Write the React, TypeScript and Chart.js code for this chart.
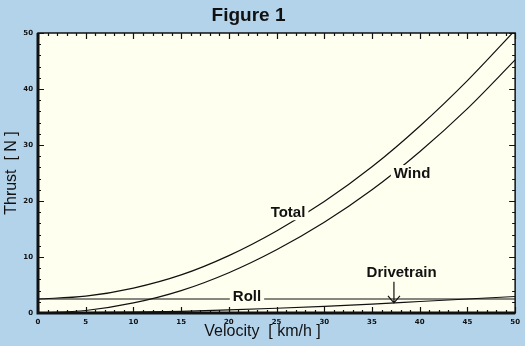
import React, { useEffect, useRef } from "react";
import { Chart, registerables } from "chart.js";

Chart.register(...registerables);

const velocity = [0, 5, 10, 15, 20, 25, 30, 35, 40, 45, 50];
const wind = [0, 0.45, 1.8, 4.0, 7.2, 11.3, 16.2, 22.0, 28.8, 36.5, 45.2];
const roll = [2.5, 2.5, 2.5, 2.5, 2.5, 2.5, 2.5, 2.5, 2.5, 2.5, 2.5];
const drivetrain = [0, 0.05, 0.15, 0.3, 0.55, 0.85, 1.2, 1.6, 2.05, 2.5, 2.95];
const total = [2.5, 3.0, 4.45, 6.8, 10.25, 14.65, 19.9, 26.1, 33.35, 41.5, 50.5];

const titleText = "Figure 1";
const xTitle = "Velocity  [ km/h ]";
const yTitle = "Thrust  [ N ]";

// curve labels in data coordinates
const labels = [
  { text: "Total", v: 26.2, y: 18.0 },
  { text: "Wind", v: 39.2, y: 25.0 },
  { text: "Roll", v: 21.9, y: 3.0 },
  { text: "Drivetrain", v: 38.1, y: 7.3 },
];
const arrow = { v: 37.3, from: 5.6, to: 1.8 };

const BG = "#b3d3ea";
const PLOT_BG = "#fffff0";
const INK = "#111111";

const toPts = (ys: number[]) => velocity.map((x, i) => ({ x, y: ys[i] }));

const decor = {
  id: "decor",
  beforeDraw(chart: any) {
    const { ctx, chartArea: a, width, height } = chart;
    ctx.save();
    ctx.fillStyle = BG;
    ctx.fillRect(0, 0, width, height);
    ctx.fillStyle = PLOT_BG;
    ctx.fillRect(a.left, a.top, a.right - a.left, a.bottom - a.top);
    ctx.restore();
  },
  afterDatasetsDraw(chart: any) {
    const { ctx, chartArea: a, scales } = chart;
    const xs = scales.x;
    const ys = scales.y;
    ctx.save();
    // labels
    ctx.font = "bold 15px 'Liberation Sans', Arial, sans-serif";
    ctx.textBaseline = "middle";
    ctx.textAlign = "center";
    labels.forEach((l) => {
      const px = xs.getPixelForValue(l.v);
      const py = ys.getPixelForValue(l.y);
      const w = ctx.measureText(l.text).width;
      ctx.fillStyle = PLOT_BG;
      ctx.fillRect(px - w / 2 - 3, py - 8, w + 6, 16);
      ctx.fillStyle = INK;
      ctx.fillText(l.text, px, py + 1);
    });
    // arrow
    const ax = xs.getPixelForValue(arrow.v);
    const ay1 = ys.getPixelForValue(arrow.from);
    const ay2 = ys.getPixelForValue(arrow.to);
    ctx.strokeStyle = INK;
    ctx.lineWidth = 1.2;
    ctx.beginPath();
    ctx.moveTo(ax, ay1);
    ctx.lineTo(ax, ay2);
    ctx.moveTo(ax - 6, ay2 - 7);
    ctx.lineTo(ax, ay2);
    ctx.lineTo(ax + 6, ay2 - 7);
    ctx.stroke();

    // ticks
    ctx.lineWidth = 1.2;
    ctx.beginPath();
    for (let v = 0; v <= 50; v += 1) {
      const px = Math.round(xs.getPixelForValue(v)) + 0.5;
      const len = v % 5 === 0 ? 6 : 3;
      ctx.moveTo(px, a.bottom);
      ctx.lineTo(px, a.bottom - len);
      ctx.moveTo(px, a.top);
      ctx.lineTo(px, a.top + len);
    }
    for (let v = 0; v <= 50; v += 2) {
      const py = Math.round(ys.getPixelForValue(v)) + 0.5;
      const len = v % 10 === 0 ? 6 : 3;
      ctx.moveTo(a.left, py);
      ctx.lineTo(a.left + len, py);
      ctx.moveTo(a.right, py);
      ctx.lineTo(a.right - len, py);
    }
    ctx.stroke();
    // frame
    ctx.lineWidth = 1.5;
    ctx.strokeRect(a.left, a.top, a.right - a.left, a.bottom - a.top);
    ctx.lineWidth = 3;
    ctx.beginPath();
    ctx.moveTo(a.left, a.top);
    ctx.lineTo(a.left, a.bottom);
    ctx.lineTo(a.right, a.bottom);
    ctx.stroke();
    ctx.restore();
  },
  afterDraw(chart: any) {
    const { ctx, chartArea: a, width } = chart;
    ctx.save();
    ctx.fillStyle = INK;
    ctx.textAlign = "center";
    ctx.textBaseline = "middle";
    ctx.font = "bold 19px 'Liberation Sans', Arial, sans-serif";
    ctx.fillText(titleText, width / 2 - 14, 16);
    ctx.font = "16px 'Liberation Sans', Arial, sans-serif";
    ctx.fillText(xTitle, width / 2, 332);
    ctx.translate(12, (a.top + a.bottom) / 2);
    ctx.rotate(-Math.PI / 2);
    ctx.fillText(yTitle, 0, 0);
    ctx.restore();
  },
};

export default function App() {
  const ref = useRef<HTMLCanvasElement>(null);
  useEffect(() => {
    if (!ref.current) return;
    const line = (data: number[]) => ({
      data: toPts(data),
      borderColor: INK,
      borderWidth: 1.2,
      pointRadius: 0,
      cubicInterpolationMode: "monotone" as const,
      fill: false,
    });
    const chart = new Chart(ref.current, {
      type: "line",
      data: {
        datasets: [line(total), line(wind), line(roll), line(drivetrain)],
      },
      options: {
        responsive: false,
        animation: false,
        layout: { padding: { top: 33, right: 8, left: 0, bottom: 0 } },
        plugins: { legend: { display: false }, tooltip: { enabled: false } },
        scales: {
          x: {
            type: "linear",
            min: 0,
            max: 50,
            afterFit: (s: any) => {
              s.height = 33;
            },
            grid: { display: false, drawTicks: false },
            border: { display: false },
            ticks: {
              stepSize: 5,
              padding: 5,
              color: INK,
              font: { size: 7, weight: "bold", family: "'DejaVu Sans', sans-serif" },
            },
          },
          y: {
            type: "linear",
            min: 0,
            max: 50,
            afterFit: (s: any) => {
              s.width = 38;
            },
            grid: { display: false, drawTicks: false },
            border: { display: false },
            ticks: {
              stepSize: 10,
              padding: 5,
              color: INK,
              font: { size: 7, weight: "bold", family: "'DejaVu Sans', sans-serif" },
            },
          },
        },
      },
      plugins: [decor],
    });
    return () => chart.destroy();
  }, []);
  return (
    <div style={{ position: "fixed", left: 0, top: 0, width: 525, height: 346 }}>
      <canvas ref={ref} width={525} height={346} />
    </div>
  );
}
